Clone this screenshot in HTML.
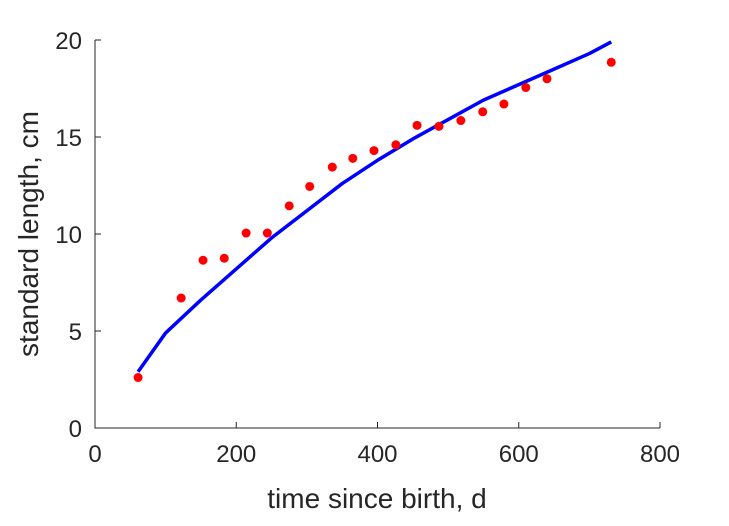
<!DOCTYPE html>
<html><head><meta charset="utf-8"><style>
body{margin:0;background:#fff}
svg text{font-family:"Liberation Sans",sans-serif;fill:#262626}
</style></head><body>
<svg width="729" height="521">
<g id="axes"></g><g id="series"></g>
</svg>
<script>
const xTicks=[0,200,400,600,800];
const yTicks=[0,5,10,15,20];
const obsT=[61,122,153,183,214,244,275,304,336,365,395,426,456,487,518,549,579,610,640,731];
const obsL=[2.6,6.7,8.65,8.75,10.05,10.05,11.45,12.45,13.45,13.9,14.3,14.6,15.6,15.55,15.85,16.3,16.7,17.55,18.0,18.85];
const fitT=[61,100,150,200,250,300,350,400,450,500,550,600,650,700,731];
const fitL=[2.9,4.9,6.6,8.2,9.8,11.2,12.6,13.8,14.9,15.9,16.9,17.7,18.5,19.3,19.9];
const X=v=>95+v*(660-95)/800, Y=v=>428-v*(428-40)/20;
const NS='http://www.w3.org/2000/svg';
const ax=document.getElementById('axes'), se=document.getElementById('series');
function mk(p,tag,at){const e=document.createElementNS(NS,tag);for(const k in at)e.setAttribute(k,at[k]);p.appendChild(e);return e;}
let a=mk(ax,'path',{d:`M95,40V428H660`,fill:'none',stroke:'#262626','stroke-width':1});


xTicks.forEach(v=>{
 const t=mk(ax,'line',{x1:X(v),x2:X(v),y1:428,y2:422,stroke:'#262626'});
 
 
 const l=mk(ax,'text',{x:X(v),y:462,'text-anchor':'middle','font-size':24});l.textContent=v;
 
 
});
yTicks.forEach(v=>{
 const t=mk(ax,'line',{x1:95,x2:101,y1:Y(v),y2:Y(v),stroke:'#262626'});
 
 
 const l=mk(ax,'text',{x:82,y:Y(v)+9,'text-anchor':'end','font-size':24});l.textContent=v;
 
 
});
let xl=mk(ax,'text',{x:377,y:508,'text-anchor':'middle','font-size':28});xl.textContent='time since birth, d';


let yl=mk(ax,'text',{x:0,y:0,'text-anchor':'middle','font-size':28,transform:'translate(38,234) rotate(-90)'});yl.textContent='standard length, cm';


let d='';fitT.forEach((t,i)=>{d+=(i?'L':'M')+X(t)+','+Y(fitL[i]);});
let ln=mk(se,'path',{d:d,fill:'none',stroke:'#0000ff','stroke-width':3.5,'stroke-linejoin':'round'});


obsT.forEach((t,i)=>{
 const c=mk(se,'circle',{cx:X(t),cy:Y(obsL[i]),r:4.5,fill:'#ff0000'});
 
 
});
</script>
</body></html>
